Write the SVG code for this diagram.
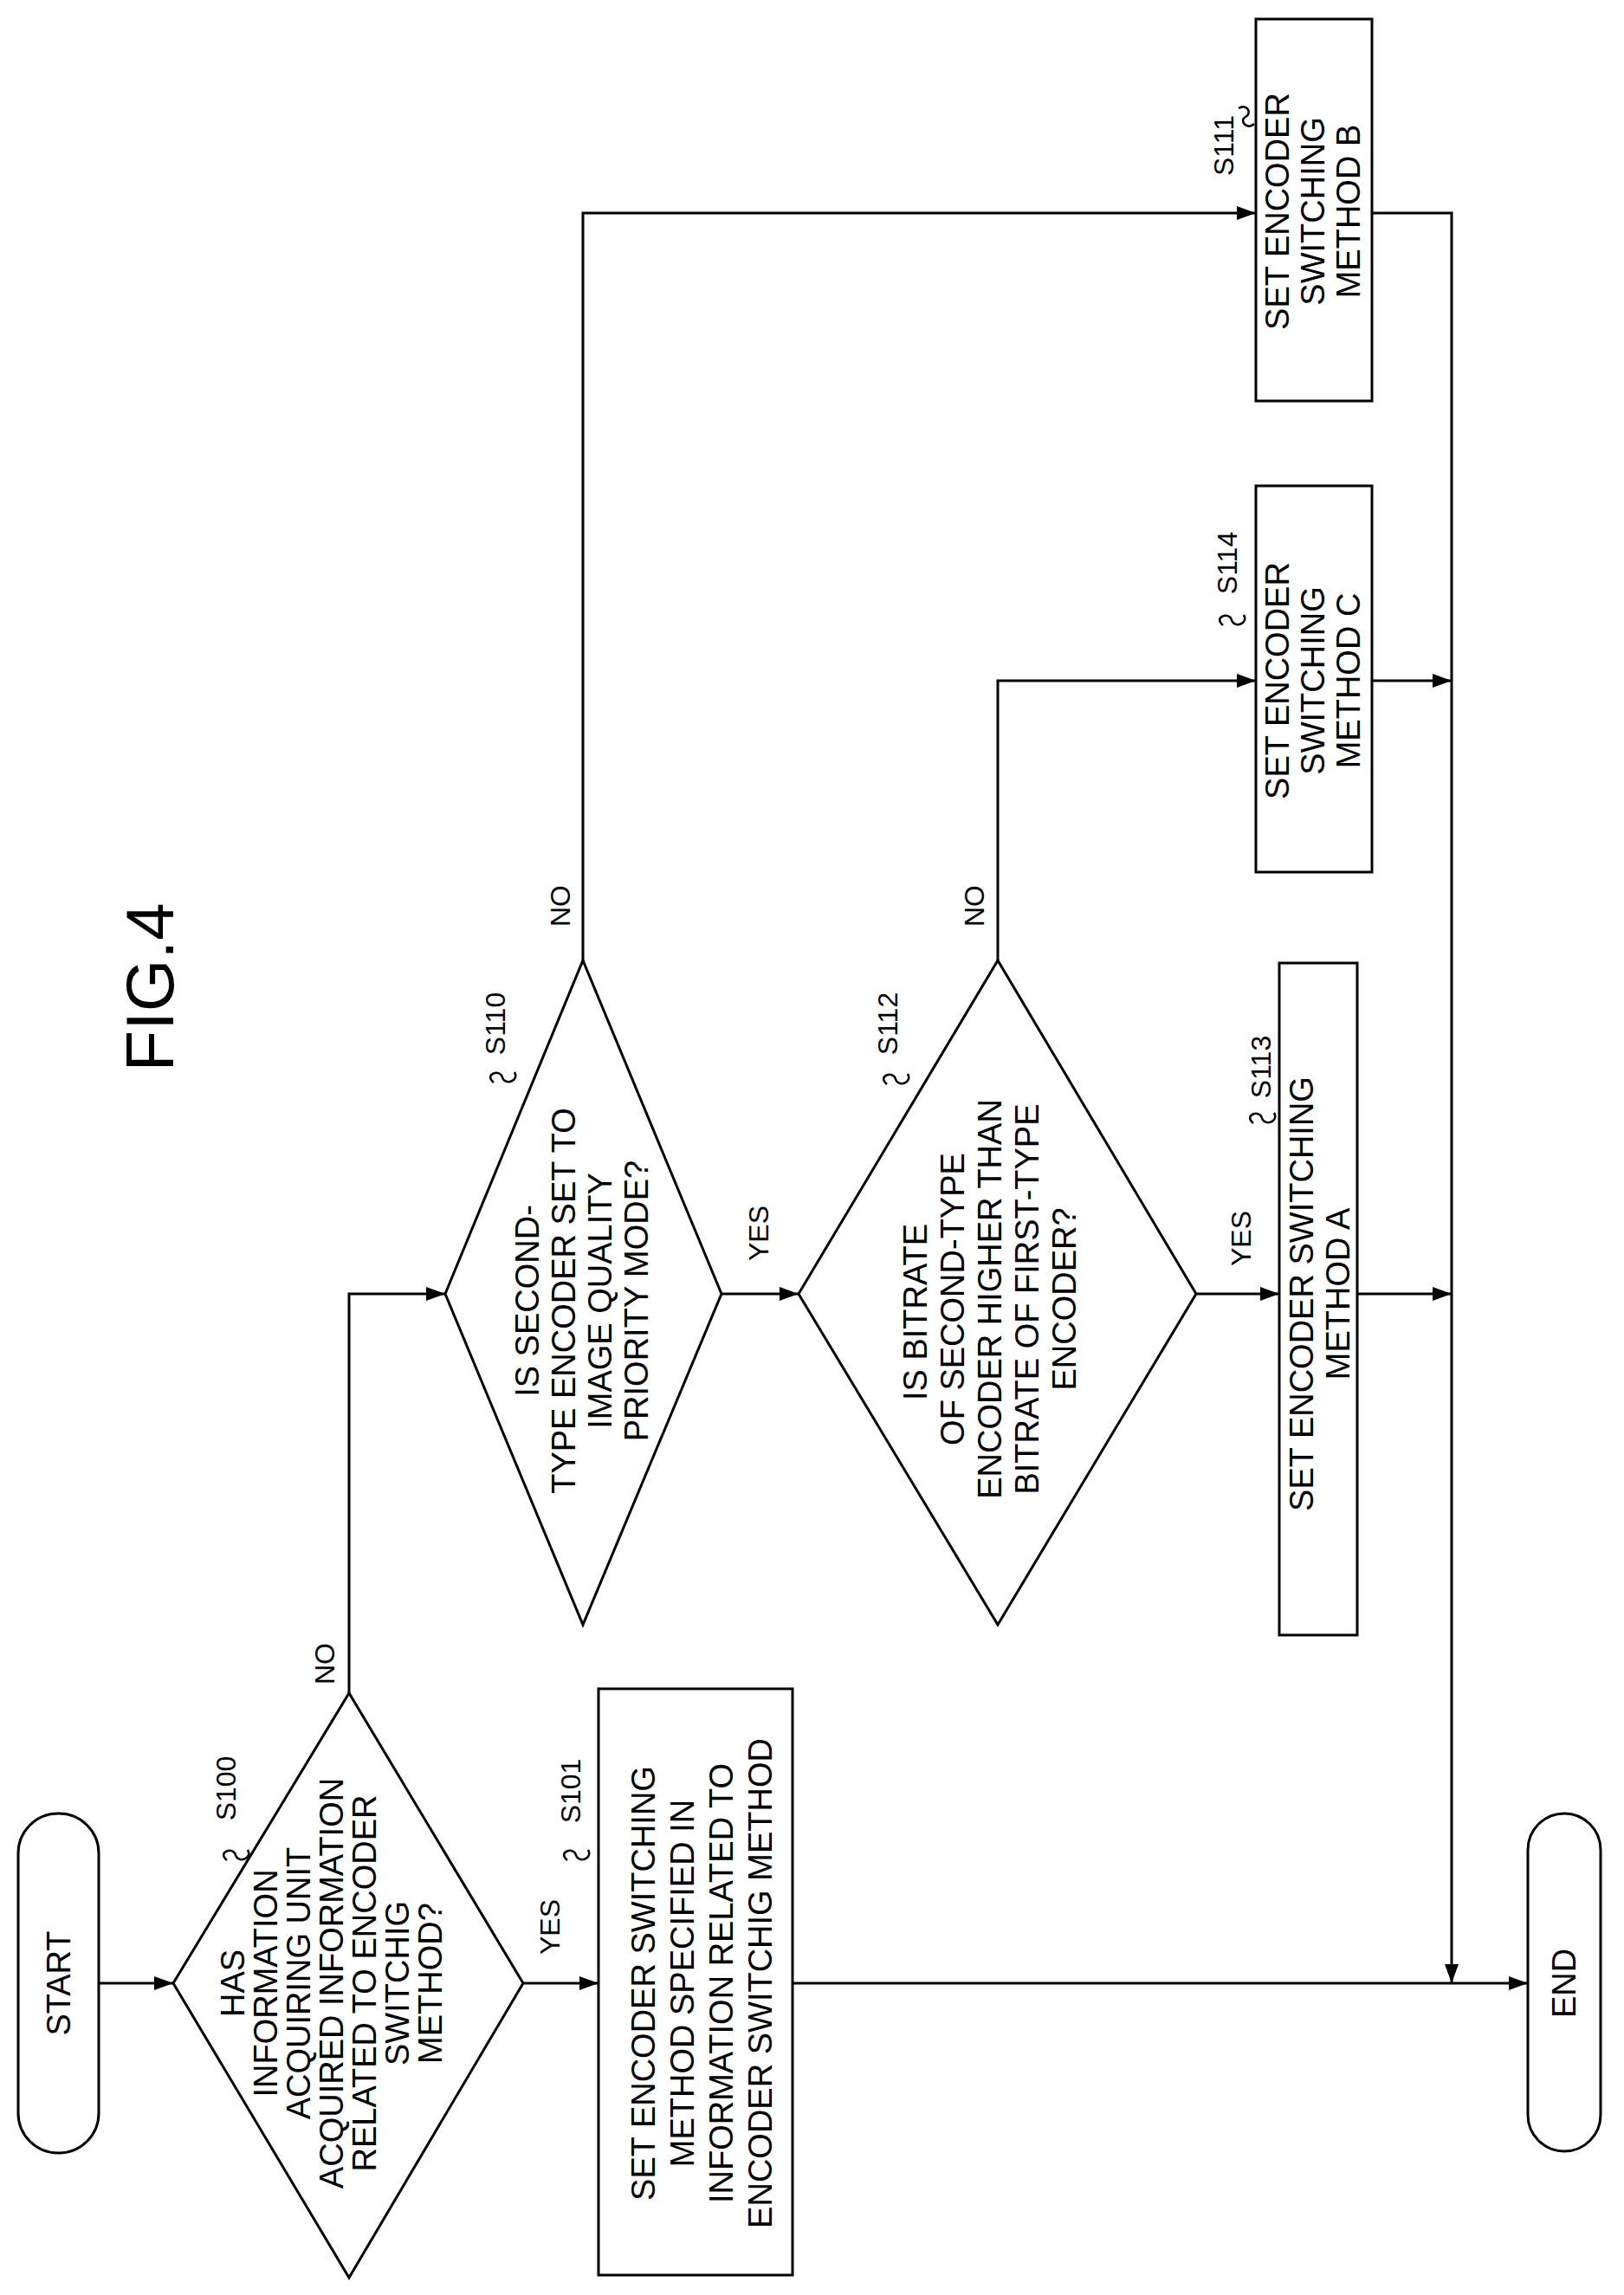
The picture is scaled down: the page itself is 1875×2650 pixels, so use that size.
<svg xmlns="http://www.w3.org/2000/svg" width="1875" height="2650" viewBox="0 0 1875 2650">
<style>
.s{fill:#fff;stroke:#000;stroke-width:3}
.c{fill:none;stroke:#000;stroke-width:3}
text{font-family:"Liberation Sans",Arial,sans-serif;fill:#000;text-anchor:middle}
.t{font-size:38px}
.l{font-size:32px}
.q{fill:none;stroke:#000;stroke-width:2.5}
</style>
<defs><marker id="a" markerWidth="24" markerHeight="16" refX="22" refY="8" orient="auto" markerUnits="userSpaceOnUse"><path d="M0,0 L22,8 L0,16 Z" fill="#000"/></marker></defs>
<rect width="1875" height="2650" fill="#fff"/>
<text font-size="78" transform="translate(200,1140) rotate(-90)">FIG.4</text>
<g id="start"><rect class="s" x="21" y="2094" width="93" height="392" rx="46"/><text class="t" transform="translate(81,2290) rotate(-90)">START</text></g>
<g id="s100"><polygon class="s" points="200,2290 403,1955 604,2290 403,2630"/>
<text class="t" transform="translate(282,2290) rotate(-90)"><tspan x="0">HAS</tspan><tspan x="0" dy="38">INFORMATION</tspan><tspan x="0" dy="38">ACQUIRING UNIT</tspan><tspan x="0" dy="38">ACQUIRED INFORMATION</tspan><tspan x="0" dy="38">RELATED TO ENCODER</tspan><tspan x="0" dy="38">SWITCHIG</tspan><tspan x="0" dy="38">METHOD?</tspan></text>
<text class="l" transform="translate(272,2065) rotate(-90)">S100</text><path class="q" d="M262,2148 c-12,-10 8,-16 10,-6 c3,10 20,4 14,-6"/></g>
<g id="s101"><rect class="s" x="691" y="1950" width="224" height="677"/>
<text class="t" transform="translate(756,2290) rotate(-90)"><tspan x="0">SET ENCODER SWITCHING</tspan><tspan x="0" dy="45">METHOD SPECIFIED IN</tspan><tspan x="0" dy="45">INFORMATION RELATED TO</tspan><tspan x="0" dy="45">ENCODER SWITCHIG METHOD</tspan></text>
<text class="l" transform="translate(670,2068) rotate(-90)">S101</text><path class="q" d="M655,2148 c-12,-10 8,-16 10,-6 c3,10 20,4 14,-6"/></g>
<g id="s110"><polygon class="s" points="514,1494 673,1109 833,1494 673,1876"/>
<text class="t" transform="translate(622,1502) rotate(-90)"><tspan x="0">IS SECOND-</tspan><tspan x="0" dy="42">TYPE ENCODER SET TO</tspan><tspan x="0" dy="42">IMAGE QUALITY</tspan><tspan x="0" dy="42">PRIORITY MODE?</tspan></text>
<text class="l" transform="translate(583,1182) rotate(-90)">S110</text><path class="q" d="M570,1250 c-12,-10 8,-16 10,-6 c3,10 20,4 14,-6"/></g>
<g id="s112"><polygon class="s" points="922,1494 1152,1109 1381,1494 1152,1876"/>
<text class="t" transform="translate(1070,1500) rotate(-90)"><tspan x="0" dx="-15">IS BITRATE</tspan><tspan x="0" dy="43">OF SECOND-TYPE</tspan><tspan x="0" dy="43">ENCODER HIGHER THAN</tspan><tspan x="0" dy="43">BITRATE OF FIRST-TYPE</tspan><tspan x="0" dy="43">ENCODER?</tspan></text>
<text class="l" transform="translate(1036,1182) rotate(-90)">S112</text><path class="q" d="M1024,1252 c-12,-10 8,-16 10,-6 c3,10 20,4 14,-6"/></g>
<g id="s113"><rect class="s" x="1477" y="1112" width="90" height="776"/>
<text class="t" transform="translate(1516,1494) rotate(-90)"><tspan x="0">SET ENCODER SWITCHING</tspan><tspan x="0" dy="42">METHOD A</tspan></text>
<text class="l" transform="translate(1467,1232) rotate(-90)">S113</text><path class="q" d="M1447,1297 c-12,-10 8,-16 10,-6 c3,10 20,4 14,-6"/></g>
<g id="s114"><rect class="s" x="1450" y="561" width="134" height="446"/>
<text class="t" transform="translate(1488,786) rotate(-90)"><tspan x="0">SET ENCODER</tspan><tspan x="0" dy="41">SWITCHING</tspan><tspan x="0" dy="41">METHOD C</tspan></text>
<text class="l" transform="translate(1428,650) rotate(-90)">S114</text><path class="q" d="M1412,722 c-12,-10 8,-16 10,-6 c3,10 20,4 14,-6"/></g>
<g id="s111"><rect class="s" x="1450" y="22" width="134" height="441"/>
<text class="t" transform="translate(1488,244) rotate(-90)"><tspan x="0">SET ENCODER</tspan><tspan x="0" dy="41">SWITCHING</tspan><tspan x="0" dy="41">METHOD B</tspan></text>
<text class="l" transform="translate(1424,168) rotate(-90)">S111</text><path class="q" d="M1430,125 c10,-6 16,6 8,10 c-8,4 2,16 10,8"/></g>
<g id="end"><rect class="s" x="1764" y="2094" width="84" height="390" rx="42"/><text class="t" transform="translate(1819,2290) rotate(-90)">END</text></g>
<g id="labels" class="l">
<text class="l" transform="translate(386,1921) rotate(-90)">NO</text>
<text class="l" transform="translate(646,2225) rotate(-90)">YES</text>
<text class="l" transform="translate(658,1046) rotate(-90)">NO</text>
<text class="l" transform="translate(887,1424) rotate(-90)">YES</text>
<text class="l" transform="translate(1136,1046) rotate(-90)">NO</text>
<text class="l" transform="translate(1444,1430) rotate(-90)">YES</text>
</g>
<g id="connectors">
<line class="c" x1="114" y1="2290" x2="200" y2="2290" marker-end="url(#a)"/>
<line class="c" x1="604" y1="2290" x2="691" y2="2290" marker-end="url(#a)"/>
<line class="c" x1="915" y1="2290" x2="1764" y2="2290" marker-end="url(#a)"/>
<polyline class="c" points="403,1955 403,1494 514,1494" marker-end="url(#a)"/>
<line class="c" x1="833" y1="1494" x2="922" y2="1494" marker-end="url(#a)"/>
<line class="c" x1="1381" y1="1494" x2="1477" y2="1494" marker-end="url(#a)"/>
<polyline class="c" points="673,1109 673,246 1450,246" marker-end="url(#a)"/>
<polyline class="c" points="1152,1109 1152,786 1450,786" marker-end="url(#a)"/>
<polyline class="c" points="1584,246 1676,246 1676,2290" marker-end="url(#a)"/>
<line class="c" x1="1584" y1="786" x2="1676" y2="786" marker-end="url(#a)"/>
<line class="c" x1="1567" y1="1494" x2="1676" y2="1494" marker-end="url(#a)"/>
</g>
</svg>
